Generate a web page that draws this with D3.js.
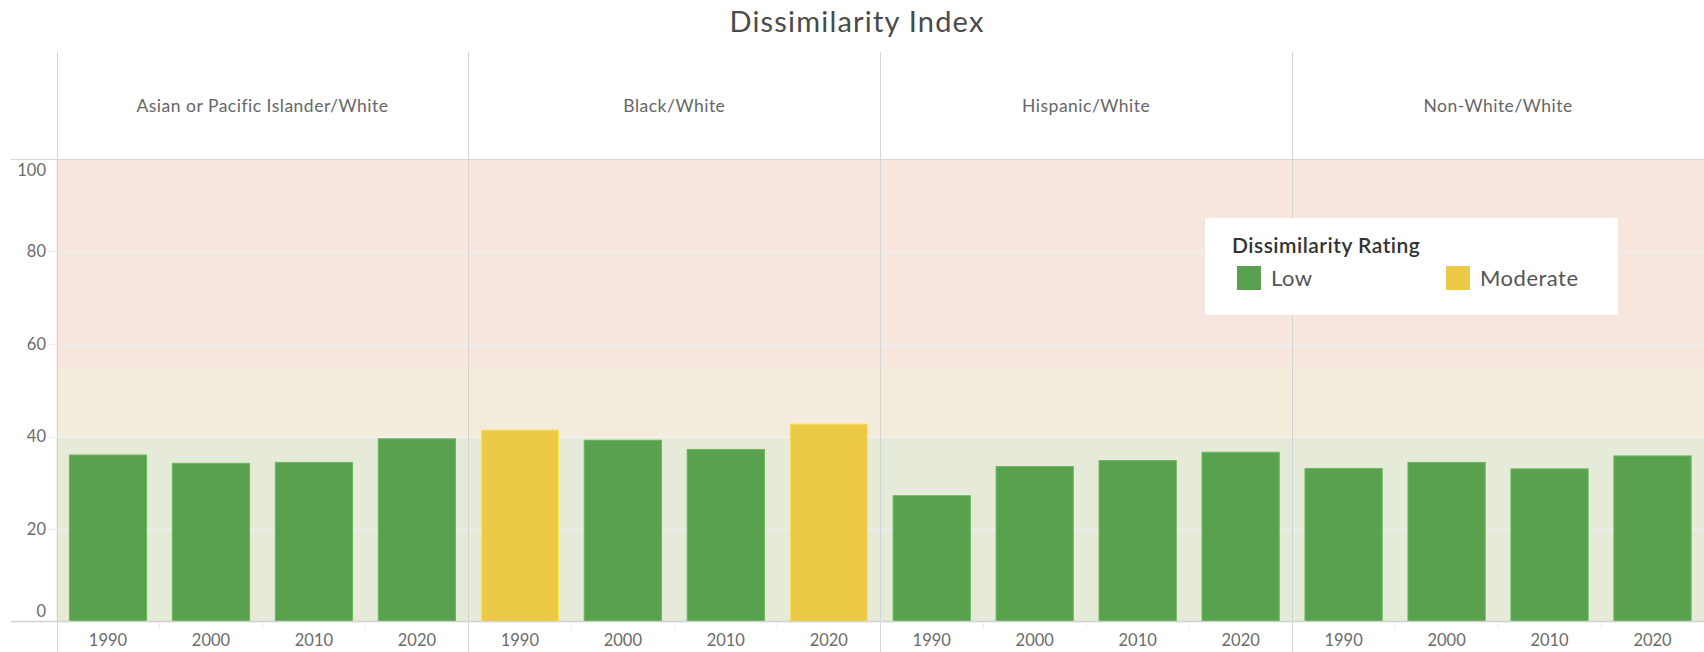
<!DOCTYPE html>
<html lang="en">
<head>
    <meta charset="UTF-8">
    <title>Dissimilarity Index</title>
    <script src="https://cdnjs.cloudflare.com/ajax/libs/d3/7.8.5/d3.min.js"></script>
    <style>
        body { margin: 0; padding: 0; background: #fff; }
        svg { display: block; font-family: Lato, "Open Sans", sans-serif; }
        .axis-label { fill: #6b6b6b; font-size: 16.5px; }
        .header-label { fill: #666; font-size: 17.5px; letter-spacing: 0.5px; }
    </style>
</head>
<body>
    <div id="chart"></div>

    <script>
        // values
        const groups = ["Asian or Pacific Islander/White", "Black/White", "Hispanic/White", "Non-White/White"];
        const years = ["1990", "2000", "2010", "2020"];
        const asianWhite = [36.0, 34.2, 34.4, 39.5];
        const blackWhite = [41.4, 39.2, 37.2, 42.7];
        const hispanicWhite = [27.2, 33.5, 34.8, 36.6];
        const nonWhiteWhite = [33.1, 34.4, 33.0, 35.8];
        const yTicks = [0, 20, 40, 60, 80, 100];
        const ratingNames = ["Low", "Moderate", "High"];
        const ratingBreaks = [40, 55];
        const legendNames = ["Low", "Moderate"];

        const seriesByGroup = [asianWhite, blackWhite, hispanicWhite, nonWhiteWhite];

        const width = 1704;
        const height = 652;
        const plotLeft = 56.5;
        const headerTop = 52;
        const plotTop = 159;
        const plotBottom = 621.5;

        const svg = d3.select("#chart")
            .append("svg")
            .attr("width", width)
            .attr("height", height);

        const x = d3.scaleBand().domain(groups).range([plotLeft, width]);
        const xi = d3.scaleBand().domain(years).range([0, x.bandwidth()])
            .paddingInner(0.25).paddingOuter(0.125);
        const y = d3.scaleLinear().domain([0, 100]).range([plotBottom, plotTop]);

        const rating = d3.scaleThreshold().domain(ratingBreaks).range(ratingNames);
        const barColor = d3.scaleOrdinal().domain(ratingNames).range(["#59a14f", "#edc948", "#e15759"]);
        const bandColor = d3.scaleOrdinal().domain(ratingNames).range(["#e6ebd9", "#f3ecdc", "#f7e6de"]);

        // title
        svg.append("text")
            .attr("x", 857)
            .attr("y", 32)
            .attr("text-anchor", "middle")
            .attr("fill", "#4a4a4a")
            .style("font-size", "29px")
            .style("letter-spacing", "1.2px")
            .text("Dissimilarity Index");

        // reference bands
        const bandEdges = [0].concat(ratingBreaks, [100]);
        svg.append("g").selectAll("rect")
            .data(ratingNames)
            .join("rect")
            .attr("x", plotLeft)
            .attr("width", width - plotLeft)
            .attr("y", (d, i) => y(bandEdges[i + 1]))
            .attr("height", (d, i) => y(bandEdges[i]) - y(bandEdges[i + 1]))
            .attr("fill", d => bandColor(d));

        // gridlines
        svg.append("g").selectAll("line")
            .data(yTicks.filter(t => t > 0 && t < 100))
            .join("line")
            .attr("x1", plotLeft - 8)
            .attr("x2", width)
            .attr("y1", d => Math.round(y(d)) + 0.5)
            .attr("y2", d => Math.round(y(d)) + 0.5)
            .attr("stroke", "#efefef")
            .attr("stroke-width", 1.5);

        // bars
        const panels = svg.append("g").selectAll("g")
            .data(groups)
            .join("g")
            .attr("transform", d => `translate(${x(d)},0)`);

        panels.selectAll("rect")
            .data((g, gi) => years.map((yr, i) => ({ year: yr, value: seriesByGroup[gi][i] })))
            .join("rect")
            .attr("x", d => xi(d.year))
            .attr("width", xi.bandwidth())
            .attr("y", d => y(d.value))
            .attr("height", d => y(0) - y(d.value))
            .attr("fill", d => barColor(rating(d.value)))
            .attr("stroke", d => d3.color(barColor(rating(d.value))).brighter(0.4))
            .attr("stroke-width", 1);

        // small ticks between years
        panels.selectAll("line.sep")
            .data(years.slice(1))
            .join("line")
            .attr("class", "sep")
            .attr("x1", d => xi(d) - xi.step() * xi.paddingInner() / 2)
            .attr("x2", d => xi(d) - xi.step() * xi.paddingInner() / 2)
            .attr("y1", plotBottom)
            .attr("y2", plotBottom + 8)
            .attr("stroke", "#ececec");

        // year labels
        panels.selectAll("text.year")
            .data(years)
            .join("text")
            .attr("class", "axis-label year")
            .attr("x", d => xi(d) + xi.bandwidth() / 2)
            .attr("y", 646)
            .attr("text-anchor", "middle")
            .text(d => d);

        // header labels
        svg.append("g").selectAll("text")
            .data(groups)
            .join("text")
            .attr("class", "header-label")
            .attr("x", d => x(d) + x.bandwidth() / 2)
            .attr("y", (headerTop + plotTop) / 2 + 6)
            .attr("text-anchor", "middle")
            .text(d => d);

        // top and zero lines
        svg.append("line")
            .attr("x1", 11).attr("x2", width)
            .attr("y1", plotTop + 0.5).attr("y2", plotTop + 0.5)
            .attr("stroke", "#d6d6d6");
        svg.append("line")
            .attr("x1", 11).attr("x2", width)
            .attr("y1", plotBottom).attr("y2", plotBottom)
            .attr("stroke", "#d0d0d0")
            .attr("stroke-width", 1.5);

        // panel dividers
        svg.append("g").selectAll("line")
            .data(groups)
            .join("line")
            .attr("x1", d => Math.round(x(d)) + 0.5)
            .attr("x2", d => Math.round(x(d)) + 0.5)
            .attr("y1", headerTop)
            .attr("y2", height)
            .attr("stroke", "#d4d4d4");

        // y axis labels
        svg.append("g").selectAll("text")
            .data(yTicks)
            .join("text")
            .attr("class", "axis-label")
            .attr("x", 46)
            .attr("y", d => y(d))
            .attr("dy", d => d === 100 ? "1.05em" : d === 0 ? "-0.3em" : "0.35em")
            .attr("text-anchor", "end")
            .text(d => d);

        // legend
        const legend = svg.append("g").attr("transform", "translate(1205,218)");
        legend.append("rect")
            .attr("width", 413)
            .attr("height", 97)
            .attr("fill", "#fff");
        legend.append("text")
            .attr("x", 27)
            .attr("y", 35)
            .attr("fill", "#333")
            .style("font-size", "21px")
            .style("font-weight", 600)
            .style("letter-spacing", "0.5px")
            .text("Dissimilarity Rating");
        const item = legend.selectAll("g.item")
            .data(legendNames)
            .join("g")
            .attr("class", "item")
            .attr("transform", (d, i) => `translate(${32 + i * 209},48)`);
        item.append("rect")
            .attr("width", 24)
            .attr("height", 24)
            .attr("fill", d => barColor(d));
        item.append("text")
            .attr("x", 34)
            .attr("y", 20)
            .attr("fill", "#555")
            .style("font-size", "22px")
            .style("letter-spacing", "0.5px")
            .text(d => d);
    </script>
</body>
</html>
